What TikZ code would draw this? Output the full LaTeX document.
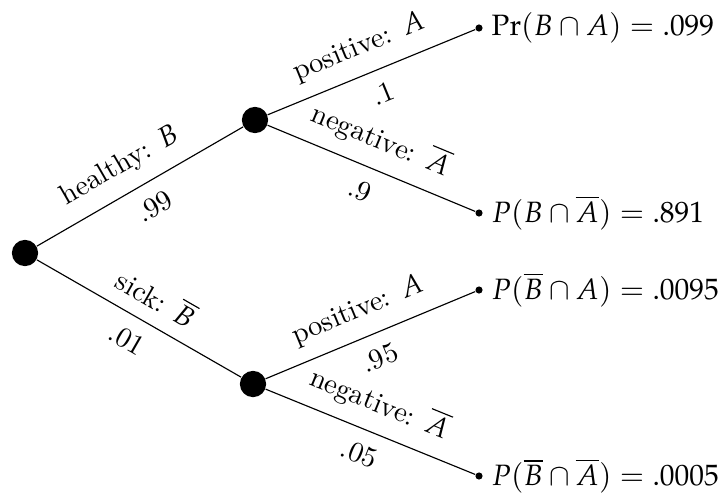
\documentclass[tikz,border=0pt]{standalone}
\usepackage[osf]{mathpazo}
\usepackage{amsmath, amssymb}
\usepackage{tikz}

\tikzset{
  bigdot/.style={circle, fill=black, inner sep=0pt, minimum size=9.2pt},
  leafdot/.style={circle, fill=black, inner sep=0pt, minimum size=2.5pt},
  outcome/.style={label={[font=\fontsize{10.3}{13}\selectfont, inner sep=2.8pt]right:{#1}}},
  branch/.style={sloped, above=1.6pt},
  prob/.style={sloped, below=1.6pt},
}

\begin{document}
\begin{tikzpicture}[x=0.35pt, y=-0.35pt]
  \useasboundingbox (0,0) rectangle (719,492);
  % decision points
  \node[bigdot] (root) at (25,253) {};
  \node[bigdot] (healthy) at (255,120) {};
  \node[bigdot] (sick) at (253,384) {};
  % outcomes
  \node[leafdot, outcome={$\Pr(B\cap A) = .099$}] (BA) at (479,28) {};
  \node[leafdot, outcome={$P(B\cap \overline{A}) = .891$}] (BnA) at (479,213) {};
  \node[leafdot, outcome={$P(\overline{B}\cap A) = .0095$}] (nBA) at (479,290) {};
  \node[leafdot, outcome={$P(\overline{B}\cap \overline{A}) = .0005$}] (nBnA) at (479,476) {};
  % first split
  \draw (root) -- node[branch, pos=0.47] {healthy: $B$} node[prob, pos=0.51] {.99} (healthy);
  \draw (root) -- node[branch, pos=0.52] {sick: $\overline{B}$} node[prob, pos=0.5] {.01} (sick);
  % test results
  \draw (healthy) -- node[branch, pos=0.49] {positive: $A$} node[prob, pos=0.51] {.1} (BA);
  \draw (healthy) -- node[branch, pos=0.49] {negative: $\overline{A}$} node[prob, pos=0.49] {.9} (BnA);
  \draw (sick) -- node[branch, pos=0.49] {positive: $A$} node[prob, pos=0.5] {.95} (nBA);
  \draw (sick) -- node[branch, pos=0.49] {negative: $\overline{A}$} node[prob, pos=0.49] {.05} (nBnA);
\end{tikzpicture}
\end{document}
